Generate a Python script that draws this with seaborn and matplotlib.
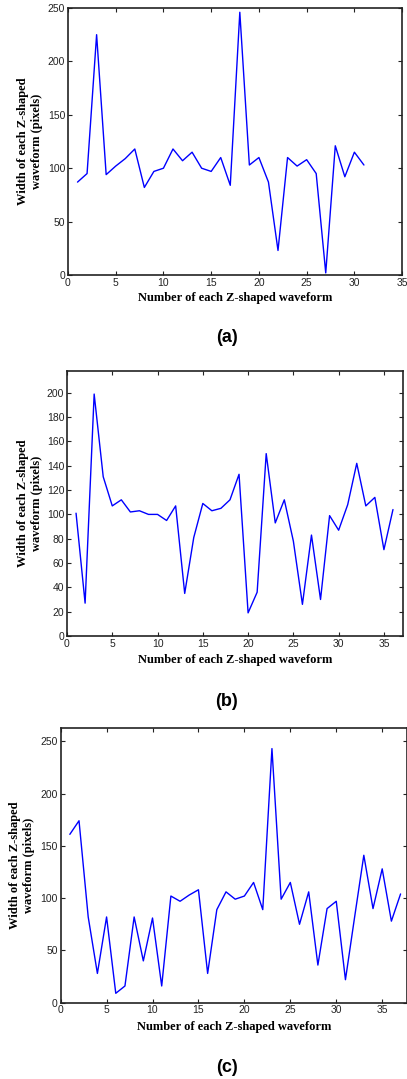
import numpy as np
import pandas as pd
import matplotlib
matplotlib.use("Agg")
import matplotlib.pyplot as plt
import seaborn as sns

# widths
width_a = [87, 95, 225, 94, 102, 109, 118, 82, 97, 100, 118, 107, 115, 100, 97,
           110, 84, 246, 103, 110, 87, 23, 110, 102, 108, 95, 2, 121, 92, 115, 103]
width_b = [101, 27, 199, 131, 107, 112, 102, 103, 100, 100, 95, 107, 35, 81, 109,
           103, 105, 112, 133, 19, 36, 150, 93, 112, 78, 26, 83, 30, 99, 87,
           108, 142, 107, 114, 71, 104]
width_c = [161, 174, 82, 28, 82, 9, 16, 82, 40, 81, 16, 102, 97, 103, 108,
           28, 89, 106, 99, 102, 115, 89, 243, 99, 115, 75, 106, 36, 90, 97,
           22, 82, 141, 90, 128, 78, 104]

xlabel = "Number of each Z-shaped waveform"
ylabel = "Width of each Z-shaped\nwaveform (pixels)"
panel_names = ["(a)", "(b)", "(c)"]

sns.set_style("ticks")
plt.rcParams["font.family"] = ["Liberation Sans", "DejaVu Sans"]
plt.rcParams["text.color"] = "black"
plt.rcParams["axes.labelcolor"] = "black"

fig = plt.figure(figsize=(4.07, 10.79), dpi=100)

# axes boxes in figure fractions: left, bottom, width, height
boxes = [
    [0.167, 0.7451, 0.821, 0.2475],
    [0.1646, 0.4106, 0.8254, 0.2456],
    [0.149, 0.0707, 0.851, 0.2549],
]
xlims = [(0, 35), (0, 37.1), (0, 37.7)]
ylims = [(0, 250), (0, 218), (0, 263)]
yticks = [np.arange(0, 251, 50), np.arange(0, 201, 20), np.arange(0, 251, 50)]
xticks = [np.arange(0, 36, 5), np.arange(0, 36, 5), np.arange(0, 36, 5)]
ylab_x = [-0.114, -0.110, -0.112]
xlab_y = [-0.085, -0.091, -0.088]
letter_y = [1 - 338 / 1079, 1 - 701 / 1079, 1 - 1067 / 1079]

for i, w in enumerate([width_a, width_b, width_c]):
    ax = fig.add_axes(boxes[i])
    df = pd.DataFrame({"n": np.arange(1, len(w) + 1), "width": w})
    sns.lineplot(data=df, x="n", y="width", ax=ax, color="#0000ff", linewidth=1.0)
    ax.set_xlim(*xlims[i])
    ax.set_ylim(*ylims[i])
    ax.set_xticks(xticks[i])
    ax.set_yticks(yticks[i])
    ax.tick_params(direction="in", length=3, width=0.8, labelsize=7.5,
                   top=True, right=True, pad=2, colors="#222222")
    for s in ax.spines.values():
        s.set_visible(True)
        s.set_linewidth(1.2)
        s.set_color("#222222")
    ax.set_xlabel(xlabel, family="Liberation Serif", fontweight="bold", fontsize=9,
                  va="center")
    ax.set_ylabel(ylabel, family="Liberation Serif", fontweight="bold", fontsize=9,
                  va="center", linespacing=1.3)
    ax.yaxis.set_label_coords(ylab_x[i], 0.5)
    ax.xaxis.set_label_coords(0.5, xlab_y[i])
    fig.text(227 / 407, letter_y[i], panel_names[i], ha="center", va="center",
             fontsize=13, fontweight="bold")

fig.savefig("out.png", dpi=100)
